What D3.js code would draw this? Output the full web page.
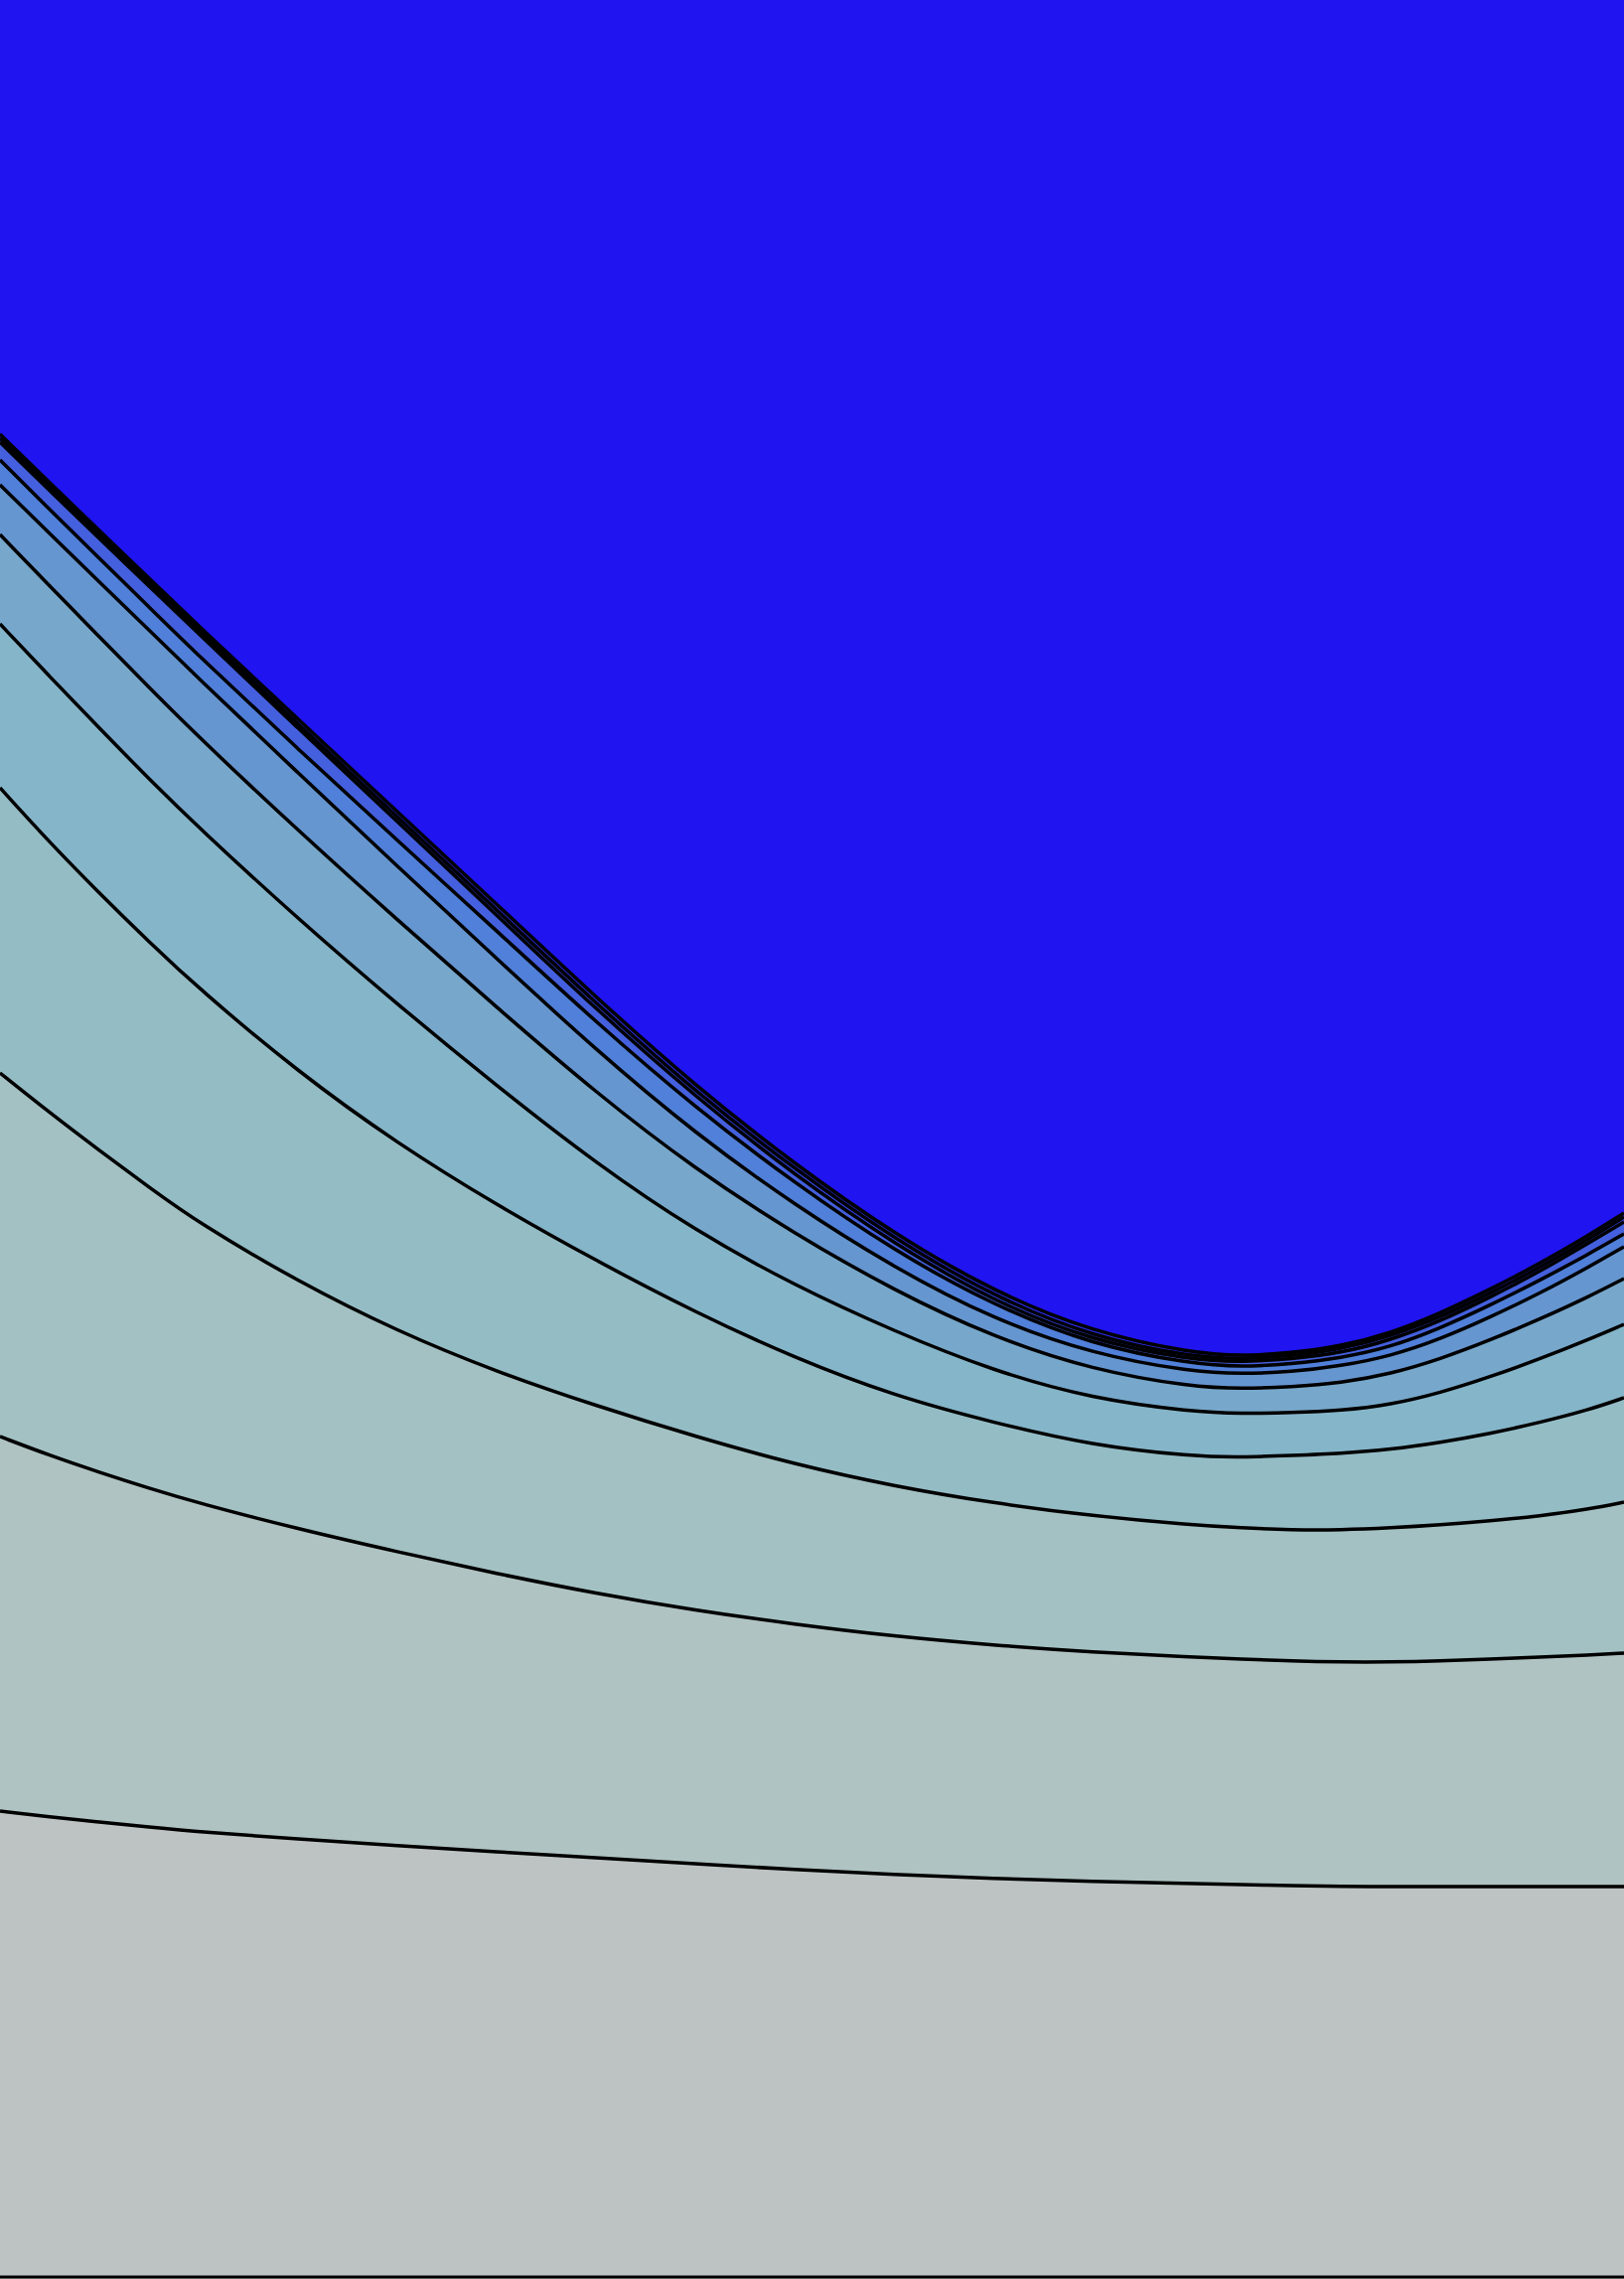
<!DOCTYPE html>
<html>
<head>
<meta charset="utf-8">
<script src="https://cdn.jsdelivr.net/npm/d3@7"></script>
<style>
    html, body { margin: 0; padding: 0; background: #ffffff; }
    svg { display: block; }
</style>
</head>
<body>
<div id="chart"></div>
<script>
// sample positions along the x axis (plot units)
const xGrid = [0, 50, 100, 150, 200, 300, 400, 500, 600, 700, 800, 900, 1000, 1100, 1200, 1250, 1300, 1350, 1400, 1450, 1500, 1550, 1600, 1635];

// contour levels, lowest (bottom) to highest (blue boundary); y in plot units, down is larger
const level1  = [1823, 1829, 1834, 1839, 1844, 1851, 1858, 1864, 1870, 1876, 1882, 1887, 1891, 1894, 1896, 1897, 1898, 1899, 1899, 1899, 1899, 1899, 1899, 1899];
const level2  = [1446, 1465, 1482, 1498, 1513, 1539, 1562, 1584, 1604, 1621, 1635, 1647, 1656, 1663, 1668, 1670, 1672, 1673, 1673, 1672, 1670, 1668, 1666, 1664];
const level3  = [1080, 1120, 1158, 1195, 1231, 1290, 1340, 1381, 1415, 1446, 1474, 1496, 1513, 1526, 1535, 1538, 1540, 1540, 1538, 1535, 1531, 1526, 1519, 1512];
const level4  = [793, 848, 899, 948, 995, 1079, 1151, 1213, 1269, 1321, 1367, 1405, 1432, 1455, 1466, 1467, 1465, 1463, 1459, 1452, 1443, 1432, 1419, 1407];
const level5  = [628, 681, 733, 784, 833, 925, 1011, 1093, 1171, 1239, 1294, 1340, 1380, 1408, 1421, 1423, 1422, 1420, 1414, 1402, 1386, 1368, 1348, 1333];
const level6  = [538, 590, 641, 692, 742, 836, 926, 1014, 1100, 1177, 1242, 1299, 1346, 1379, 1396, 1398, 1396, 1392, 1383, 1368, 1349, 1328, 1305, 1287];
const level7  = [488, 537, 586, 634, 683, 778, 872, 965, 1057, 1141, 1213, 1276, 1328, 1363, 1381, 1383, 1381, 1375, 1365, 1348, 1326, 1302, 1275, 1255];
const level8  = [463, 513, 562, 611, 660, 754, 846, 937, 1029, 1115, 1191, 1259, 1314, 1354, 1373, 1376, 1373, 1367, 1356, 1337, 1314, 1289, 1262, 1242];
const level9  = [445, 494, 542, 590, 638, 733, 827, 921, 1016, 1104, 1183, 1252, 1310, 1350, 1369, 1371, 1368, 1362, 1349, 1330, 1306, 1280, 1251, 1230];
const level10 = [441, 490, 538, 586, 634, 729, 822, 916, 1010, 1099, 1177, 1247, 1305, 1346, 1366, 1368, 1365, 1358, 1345, 1326, 1302, 1276, 1247, 1225];
const level11 = [437, 486, 534, 582, 630, 724, 817, 910, 1004, 1093, 1172, 1242, 1300, 1341, 1362, 1365, 1362, 1355, 1342, 1322, 1298, 1272, 1243, 1221];

// fill colour of each band, from below level1 up to above level11
const bandColors = ["#bdc3c3", "#afc3c2", "#a3c1c3", "#94bcc5", "#85b5c9", "#77a8cb",
                    "#6696d0", "#5080d9", "#4460de", "#3444e6", "#2a2ceb", "#2014f0"];

const levels = [level1, level2, level3, level4, level5, level6, level7, level8, level9, level10, level11];

const width = 1635, height = 2294;

const svg = d3.select("#chart").append("svg")
    .attr("width", width)
    .attr("height", height);

const x = d3.scaleLinear().domain([0, 1635]).range([0, width]);
const y = d3.scaleLinear().domain([0, 2294]).range([0, height]);

const area = d3.area()
    .x(d => x(d[0]))
    .y0(y(0))
    .y1(d => y(d[1]))
    .curve(d3.curveBasis);

const line = d3.line()
    .x(d => x(d[0]))
    .y(d => y(d[1]))
    .curve(d3.curveBasis);

// lowest band covers everything
svg.append("rect")
    .attr("x", 0)
    .attr("y", 0)
    .attr("width", width)
    .attr("height", height)
    .attr("fill", bandColors[0]);

const pts = ys => xGrid.map((xv, j) => [xv, ys[j]]);

svg.append("g").selectAll("path")
    .data(levels)
    .join("path")
    .attr("d", d => area(pts(d)))
    .attr("fill", (d, i) => bandColors[i + 1]);

svg.append("g").selectAll("path")
    .data(levels)
    .join("path")
    .attr("d", d => line(pts(d)))
    .attr("fill", "none")
    .attr("stroke", "black")
    .attr("stroke-width", 3.5);

// bottom spine
svg.append("line")
    .attr("x1", 0)
    .attr("x2", width)
    .attr("y1", height - 2)
    .attr("y2", height - 2)
    .attr("stroke", "black")
    .attr("stroke-width", 3);
</script>
</body>
</html>
